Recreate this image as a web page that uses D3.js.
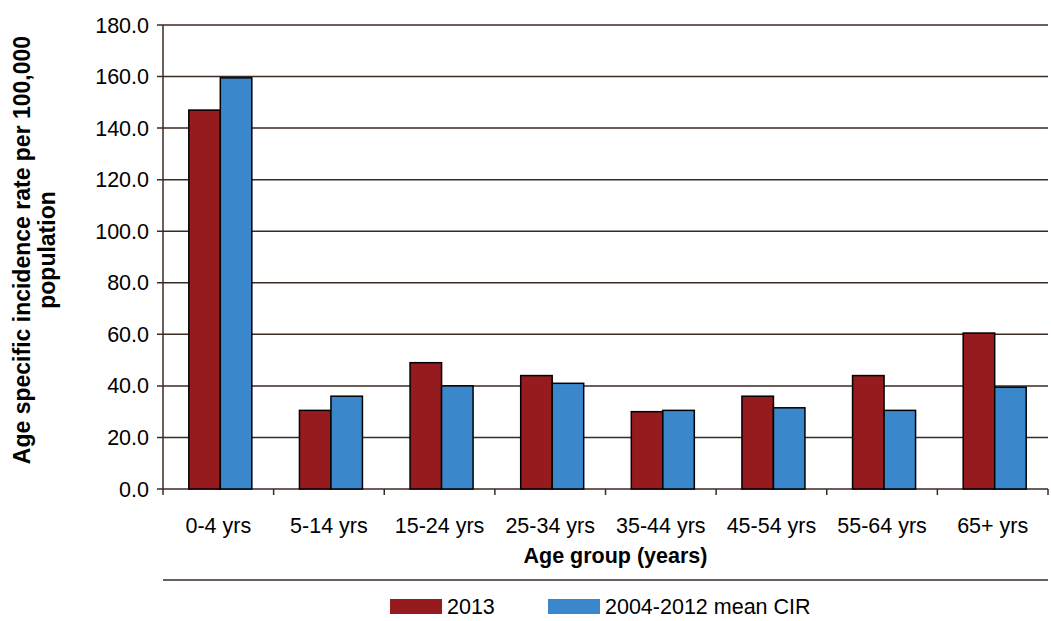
<!DOCTYPE html>
<html><head><meta charset="utf-8">
<script src="https://cdn.jsdelivr.net/npm/d3@7"></script>
<style>body{margin:0;background:#fff}text{font-family:Arial,"Liberation Sans",sans-serif}</style>
</head><body>
<svg id="c" width="1051" height="621"></svg>
<script>
const ageGroups = ["0-4 yrs","5-14 yrs","15-24 yrs","25-34 yrs","35-44 yrs","45-54 yrs","55-64 yrs","65+ yrs"];
const rate2013 = [147.0, 30.5, 49.0, 44.0, 30.0, 36.0, 44.0, 60.5];
const rateMean = [159.5, 36.0, 40.0, 41.0, 30.5, 31.5, 30.5, 39.5];
const seriesNames = ["2013", "2004-2012 mean CIR"];
const yTicks = [0,20,40,60,80,100,120,140,160,180];
const colors = ["#961b1f", "#3a87cc"];

const svg = d3.select("#c");
const m = {left:163, right:1048, top:25, bottom:489};
const x = d3.scaleBand().domain(ageGroups).range([m.left, m.right]);
const y = d3.scaleLinear().domain([0,180]).range([m.bottom, m.top]);
const lineCol = "#3b2a22";
const fs = 21.5;

// gridlines
svg.append("g").selectAll("line").data(yTicks).join("line")
  .attr("x1", m.left-6).attr("x2", m.right)
  .attr("y1", d=>y(d)).attr("y2", d=>y(d))
  .attr("stroke", lineCol).attr("stroke-width", 1.5);
svg.append("g").selectAll("text").data(yTicks).join("text")
  .attr("x", m.left-14).attr("y", d=>y(d)).attr("dy","0.35em")
  .attr("text-anchor","end").attr("font-size",fs).text(d=>d.toFixed(1));
// x ticks
svg.append("g").selectAll("line").data(ageGroups.concat(["end"])).join("line")
  .attr("x1",(d,i)=>m.left+i*x.bandwidth()).attr("x2",(d,i)=>m.left+i*x.bandwidth())
  .attr("y1", m.bottom).attr("y2", m.bottom+6).attr("stroke", lineCol).attr("stroke-width",1.5);

const bw = 31.5;
const series = [rate2013, rateMean];
series.forEach((vals, s) => {
  svg.append("g").selectAll("rect").data(vals).join("rect")
    .attr("x", (d,i)=>x(ageGroups[i]) + x.bandwidth()/2 - bw + 2 + s*bw)
    .attr("y", d=>y(d)).attr("width", bw).attr("height", d=>y(0)-y(d))
    .attr("fill", colors[s]).attr("stroke","#000").attr("stroke-width",1.5);
});
// y axis
svg.append("line").attr("x1",m.left).attr("x2",m.left).attr("y1",m.top).attr("y2",m.bottom)
  .attr("stroke",lineCol).attr("stroke-width",1.5);

svg.append("g").selectAll("text").data(ageGroups).join("text")
  .attr("x", d=>x(d)+x.bandwidth()/2).attr("y", 533)
  .attr("text-anchor","middle").attr("font-size",fs).text(d=>d);
svg.append("text").attr("x",(m.left+m.right)/2 + 10).attr("y",563).attr("text-anchor","middle")
  .attr("font-size",fs).attr("font-weight","bold").text("Age group (years)");
const yt = svg.append("text").attr("transform","translate(30,250) rotate(-90)")
  .attr("text-anchor","middle").attr("font-size",23).attr("font-weight","bold");
yt.append("tspan").attr("x",0).attr("dy",0).text("Age specific incidence rate per 100,000");
yt.append("tspan").attr("x",0).attr("dy",25).text("population");

svg.append("line").attr("x1",m.left).attr("x2",m.right).attr("y1",580).attr("y2",580)
  .attr("stroke",lineCol).attr("stroke-width",1.5);
const lg = [[390,447],[548,605]];
seriesNames.forEach((n,i)=>{
  svg.append("rect").attr("x",lg[i][0]).attr("y",599).attr("width",52).attr("height",15).attr("fill",colors[i]);
  svg.append("text").attr("x",lg[i][1]).attr("y",614).attr("font-size",fs).text(n);
});
</script>
</body></html>
